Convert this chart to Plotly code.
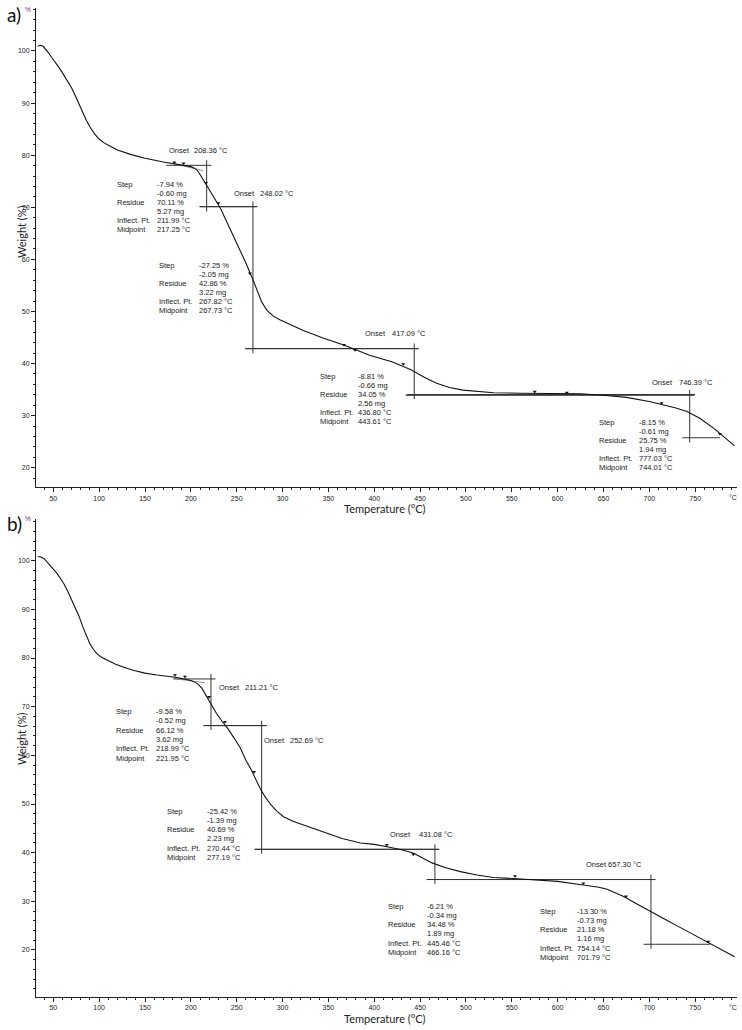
import plotly.graph_objects as go

# ---------------- Panel a) data ----------------
temp_a = [33, 36, 39, 42, 45, 48, 52, 56, 60, 65, 70, 74, 78, 82, 86, 90, 95, 100, 105, 110,
          120, 135, 150, 170, 190, 200, 204, 207, 210, 213, 218, 225, 232, 240, 250, 260, 268,
          272, 277, 283, 290, 297, 310, 322, 344, 366, 395, 420, 440, 455, 468, 482, 497, 515,
          530, 560, 600, 625, 650, 675, 700, 712, 728, 741, 755, 770, 781, 793]
weight_a = [100.9, 101.1, 100.9, 100.3, 99.6, 98.8, 97.9, 96.9, 95.8, 94.4, 92.9, 91.4, 89.8,
            88.2, 86.7, 85.4, 84.1, 83.1, 82.4, 81.9, 81.0, 80.1, 79.4, 78.7, 78.1, 77.8, 77.5,
            77.1, 76.3, 75.4, 74.1, 72.0, 69.9, 66.9, 63.2, 59.3, 56.0, 54.0, 51.9, 50.2, 49.1,
            48.4, 47.3, 46.4, 44.9, 43.6, 41.6, 40.3, 38.8, 37.3, 36.2, 35.4, 34.9, 34.6, 34.4,
            34.3, 34.3, 34.2, 33.9, 33.5, 32.7, 32.2, 31.5, 30.8, 29.5, 27.6, 26.0, 24.2]
onset_a = [208.36, 248.02, 417.09, 746.39]
step_pct_a = [-7.94, -27.25, -8.81, -8.15]
step_mg_a = [-0.60, -2.05, -0.66, -0.61]
residue_pct_a = [70.11, 42.86, 34.05, 25.75]
residue_mg_a = [5.27, 3.22, 2.56, 1.94]
inflect_a = [211.99, 267.82, 436.80, 777.03]
midpoint_a = [217.25, 267.73, 443.61, 744.01]
base_from_a = [173, 210, 259, 434]
base_to_a = [272, 448, 750, 777]
limit_t_a = [182, 192, 216.5, 230, 264.5, 367, 379, 431.7, 575, 610, 713.4, 777]
limit_w_a = [78.6, 78.4, 74.7, 70.8, 57.3, 43.6, 42.6, 39.9, 34.6, 34.4, 32.4, 26.5]
tangent_t_a = [180.9, 213.6]
tangent_w_a = [78.4, 77.0]

# ---------------- Panel b) data ----------------
temp_b = [33, 36, 40, 43, 46, 50, 54, 58, 62, 66, 70, 74, 78, 82, 86, 90, 94, 98, 103, 110,
          118, 127, 137, 150, 163, 185, 200, 205, 208, 212, 216, 220, 228, 234, 240, 247, 254,
          260, 266, 272, 277, 282, 287, 294, 301, 312, 323, 344, 365, 385, 400, 414, 430, 443,
          452, 463, 478, 494, 512, 530, 560, 580, 600, 626, 645, 654, 663, 672, 686, 701, 717,
          733, 749, 764, 780, 793]
weight_b = [100.8, 100.8, 100.4, 99.8, 99.1, 98.2, 97.4, 96.3, 95.1, 93.6, 91.9, 90.3, 88.6,
            86.5, 84.5, 82.9, 81.7, 80.8, 80.1, 79.4, 78.7, 78.1, 77.5, 76.9, 76.5, 76.0, 75.4,
            75.0, 74.6, 73.8, 72.5, 71.3, 68.6, 67.0, 65.6, 63.6, 61.5, 59.0, 57.0, 54.6, 52.7,
            51.2, 49.9, 48.5, 47.4, 46.4, 45.7, 44.3, 42.9, 42.0, 41.7, 41.2, 40.6, 39.9, 39.0,
            37.9, 36.9, 36.1, 35.4, 34.9, 34.6, 34.4, 34.1, 33.4, 32.9, 32.5, 31.8, 31.0, 29.5,
            27.9, 26.3, 24.7, 23.1, 21.5, 20.0, 18.6]
onset_b = [211.21, 252.69, 431.08, 657.30]
step_pct_b = [-9.58, -25.42, -6.21, -13.30]
step_mg_b = [-0.52, -1.39, -0.34, -0.73]
residue_pct_b = [66.12, 40.69, 34.48, 21.18]
residue_mg_b = [3.62, 2.23, 1.89, 1.16]
inflect_b = [218.99, 270.44, 445.46, 754.14]
midpoint_b = [221.95, 277.19, 466.16, 701.79]
base_from_b = [181, 214, 270, 457]
base_to_b = [283, 470, 706, 766]
limit_t_b = [182.7, 193.6, 219.8, 237.2, 268.9, 413.6, 442.6, 553.5, 628, 674.5, 764.3]
limit_w_b = [76.5, 76.2, 72.0, 66.9, 56.6, 41.6, 39.7, 35.2, 33.7, 31.0, 21.7]
tangent_t_b = [180.9, 215.4]
tangent_w_b = [75.8, 74.9]

# text block placement (data units): label x, value x, first-row y, onset x, onset value x, onset y
blocks_a = [
    (117.3, 160.9, 74.28, 174.0, 201.3, 80.86),
    (162.8, 206.4, 58.78, 244.5, 272.9, 72.55),
    (338.7, 380.1, 37.47, 387.7, 417.2, 45.67),
    (642.6, 686.2, 28.72, 700.7, 729.8, 36.32),
]
row_a = 1.728
blocks_b = [
    (116.5, 160.1, 68.97, 228.8, 256.5, 73.98),
    (171.8, 215.4, 48.56, 277.3, 306.3, 63.01),
    (412.8, 455.3, 29.04, 415.3, 446.3, 43.83),
    (578.9, 618.9, 28.01, 628.2, 653.2, 37.47),
]
row_b = 1.91

INK = "#1a1a1a"


def small():
    return dict(family="Liberation Sans, Arial, sans-serif", size=7.5, color=INK)


def tickf():
    return dict(family="Liberation Sans, Arial, sans-serif", size=7, color="#222")


def titlef():
    return dict(family="Lato, Open Sans, sans-serif", size=11, color="#222")


fig = go.Figure()
annotations = []


def add_panel(xref, yref, temp, weight, onset, spct, smg, rpct, rmg, infl, mid,
              bfrom, bto, lt, lw, tt, tw, blocks, rowstep):
    # baseline / tangent construction lines
    lx, ly = [], []
    for i in range(len(mid)):
        pre = rpct[i] - spct[i]
        lx += [bfrom[i], mid[i] + 5, None]
        ly += [pre, pre, None]
        lx += [mid[i] - 8, bto[i], None]
        ly += [rpct[i], rpct[i], None]
        lx += [mid[i], mid[i], None]
        ly += [pre + 1.0, rpct[i] - 0.9, None]
    fig.add_trace(go.Scatter(x=lx, y=ly, xaxis=xref, yaxis=yref, mode="lines",
                             line=dict(color="#333", width=1), hoverinfo="skip",
                             showlegend=False))
    fig.add_trace(go.Scatter(x=tt, y=tw, xaxis=xref, yaxis=yref, mode="lines",
                             line=dict(color="#666", width=0.7), hoverinfo="skip",
                             showlegend=False))
    fig.add_trace(go.Scatter(x=temp, y=weight, xaxis=xref, yaxis=yref, mode="lines",
                             line=dict(color="#111", width=1.1),
                             showlegend=False))
    fig.add_trace(go.Scatter(x=lt, y=lw, xaxis=xref, yaxis=yref, mode="markers",
                             marker=dict(symbol="triangle-down", size=3.5, color="#111"),
                             hoverinfo="skip", showlegend=False))
    for i, (lx0, vx0, y0, ox, ovx, oy) in enumerate(blocks):
        labels = ["Step", "", "Residue", "", "Inflect. Pt.", "Midpoint"]
        values = [f"{spct[i]:.2f} %", f"{smg[i]:.2f} mg", f"{rpct[i]:.2f} %",
                  f"{rmg[i]:.2f} mg", f"{infl[i]:.2f} °C", f"{mid[i]:.2f} °C"]
        for r in range(6):
            yy = y0 - r * rowstep
            if labels[r]:
                annotations.append(dict(x=lx0, y=yy, xref=xref, yref=yref, text=labels[r],
                                        showarrow=False, xanchor="left", yanchor="middle",
                                        font=small()))
            annotations.append(dict(x=vx0, y=yy, xref=xref, yref=yref, text=values[r],
                                    showarrow=False, xanchor="left", yanchor="middle",
                                    font=small()))
        annotations.append(dict(x=ox, y=oy, xref=xref, yref=yref, text="Onset",
                                showarrow=False, xanchor="left", yanchor="middle", font=small()))
        annotations.append(dict(x=ovx, y=oy, xref=xref, yref=yref, text=f"{onset[i]:.2f} °C",
                                showarrow=False, xanchor="left", yanchor="middle", font=small()))


add_panel("x", "y", temp_a, weight_a, onset_a, step_pct_a, step_mg_a, residue_pct_a,
          residue_mg_a, inflect_a, midpoint_a, base_from_a, base_to_a, limit_t_a, limit_w_a,
          tangent_t_a, tangent_w_a, blocks_a, row_a)
add_panel("x2", "y2", temp_b, weight_b, onset_b, step_pct_b, step_mg_b, residue_pct_b,
          residue_mg_b, inflect_b, midpoint_b, base_from_b, base_to_b, limit_t_b, limit_w_b,
          tangent_t_b, tangent_w_b, blocks_b, row_b)

W, H = 742, 1030
xdom = [36 / W, 737 / W]
xrange_ = [31.13, 795.6]


def xaxis_cfg(anchor):
    return dict(domain=xdom, range=xrange_, anchor=anchor, showline=True, linecolor="#222",
                linewidth=1, ticks="outside", ticklen=4, tickcolor="#222", tickmode="linear",
                tick0=0, dtick=50, tickfont=tickf(), showgrid=False, zeroline=False,
                minor=dict(ticks="outside", ticklen=2, tick0=0, dtick=10, tickcolor="#222",
                           showgrid=False))


def yaxis_cfg(anchor, dom, rng):
    return dict(domain=dom, range=rng, anchor=anchor, showline=True, linecolor="#222",
                linewidth=1, ticks="outside", ticklen=4, tickcolor="#222", tickmode="linear",
                tick0=0, dtick=10, tickfont=tickf(), showgrid=False, zeroline=False,
                minor=dict(ticks="outside", ticklen=2, tick0=0, dtick=2, tickcolor="#222",
                           showgrid=False))


fig.update_layout(
    width=W, height=H, margin=dict(l=0, r=0, t=0, b=0),
    paper_bgcolor="white", plot_bgcolor="white", showlegend=False,
    xaxis=xaxis_cfg("y"),
    yaxis=yaxis_cfg("x", [1 - 487.3 / H, 1 - 8 / H], [16.24, 108.25]),
    xaxis2=xaxis_cfg("y2"),
    yaxis2=yaxis_cfg("x2", [1 - 997 / H, 1 - 519 / H], [10.34, 108.57]),
)

# panel labels, axis titles, unit labels
for lab, py, ty, uy, xy, ay in [("a)", 15, 232, 10, 497, 508), ("b)", 523, 739, 518, 1007, 1018)]:
    annotations.append(dict(x=14 / W, y=1 - py / H, xref="paper", yref="paper", text=lab,
                            showarrow=False, xanchor="center", yanchor="middle",
                            font=dict(family="Lato, sans-serif", size=19, color="#111")))
    annotations.append(dict(x=21 / W, y=1 - ty / H, xref="paper", yref="paper",
                            text="Weight (%)", textangle=-90, showarrow=False,
                            xanchor="center", yanchor="middle", font=titlef()))
    annotations.append(dict(x=28 / W, y=1 - uy / H, xref="paper", yref="paper", text="%",
                            showarrow=False, xanchor="center", yanchor="middle",
                            font=dict(family="Liberation Sans, Arial", size=6.5, color="#6a2a6a")))
    annotations.append(dict(x=733 / W, y=1 - xy / H, xref="paper", yref="paper", text="°C",
                            showarrow=False, xanchor="center", yanchor="middle", font=tickf()))
    annotations.append(dict(x=385 / W, y=1 - ay / H, xref="paper", yref="paper",
                            text="Temperature (°C)", showarrow=False, xanchor="center",
                            yanchor="middle", font=titlef()))

fig.update_layout(annotations=annotations)
fig.write_html("out.html", config={"displayModeBar": False},
               post_script="document.body.style.margin='0';document.body.style.padding='0';")
